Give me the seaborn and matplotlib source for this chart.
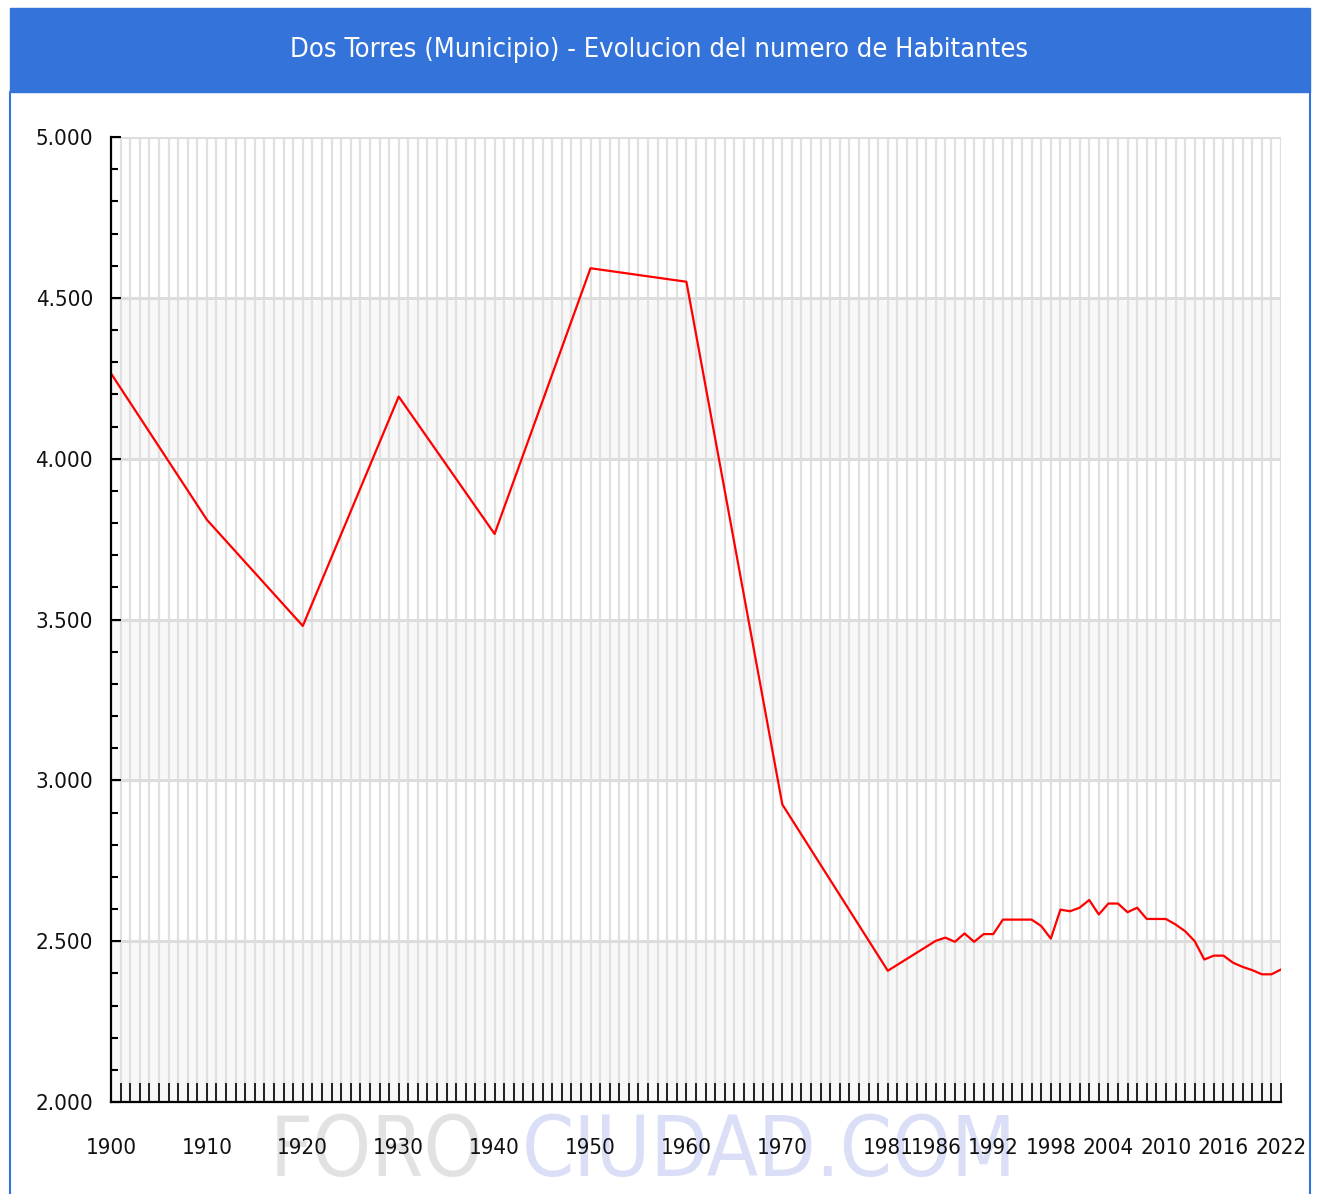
import matplotlib
matplotlib.use("Agg")
import matplotlib.pyplot as plt
from matplotlib import font_manager
from matplotlib.patches import Rectangle
from matplotlib.lines import Line2D
from matplotlib.ticker import FuncFormatter, MultipleLocator
import seaborn as sns
import pandas as pd

# ---------------- data ----------------
years = [1900, 1910, 1920, 1930, 1940, 1950, 1960, 1970, 1981,
         1986, 1987, 1988, 1989, 1990, 1991, 1992, 1993, 1994, 1995,
         1996, 1997, 1998, 1999, 2000, 2001, 2002, 2003, 2004, 2005,
         2006, 2007, 2008, 2009, 2010, 2011, 2012, 2013, 2014, 2015,
         2016, 2017, 2018, 2019, 2020, 2021, 2022]
population = [4265, 3810, 3480, 4193, 3766, 4592, 4550, 2925, 2408,
              2501, 2511, 2498, 2524, 2498, 2522, 2522, 2567, 2567, 2567,
              2567, 2547, 2508, 2598, 2593, 2604, 2628, 2583, 2617, 2617,
              2590, 2604, 2569, 2569, 2569, 2552, 2531, 2500, 2443, 2455,
              2455, 2433, 2420, 2410, 2397, 2397, 2412]
label_years = [1900, 1910, 1920, 1930, 1940, 1950, 1960, 1970, 1981,
               1986, 1992, 1998, 2004, 2010, 2016, 2022]
y_ticks = [2000, 2500, 3000, 3500, 4000, 4500, 5000]
title = "Dos Torres (Municipio) - Evolucion del numero de Habitantes"

df = pd.DataFrame({"year": years, "pop": population})

# ---------------- style ----------------
sns.set_theme(style="white")
names = {f.name for f in font_manager.fontManager.ttflist}
narrow = "Liberation Sans Narrow" if "Liberation Sans Narrow" in names else None
fam = [narrow, "DejaVu Sans"] if narrow else ["DejaVu Sans"]
plt.rcParams["font.family"] = fam
stretch = "normal" if narrow else "condensed"

W, H = 1319, 1194
fig = plt.figure(figsize=(W / 100, H / 100), dpi=100, facecolor="white")

# header bar
blue = "#3473D9"
fig.patches.append(Rectangle((10 / W, 1 - 92 / H), 1300 / W, 84 / H,
                             transform=fig.transFigure, color=blue, zorder=0))
fig.text(659 / W, 1 - 50 / H, title, color="white", fontsize=19.5,
         ha="center", va="center", fontstretch=stretch, family=fam)
# side border lines
for xp in (9.5, 1310):
    fig.lines.append(Line2D([xp / W, xp / W], [0, 1 - 92 / H],
                            transform=fig.transFigure, color=blue, lw=1.5))

# watermark
fig.text(270 / W, 18 / H, "FORO", color="#E2E2E2", fontsize=60,
         ha="left", va="baseline", zorder=-1, family=fam, fontstretch=stretch)
fig.text(522 / W, 18 / H, "CIUDAD.COM", color="#DADEF6", fontsize=60,
         ha="left", va="baseline", zorder=-1, family=fam, fontstretch=stretch)

ax = fig.add_axes([111 / W, 1 - 1102 / H, (1281 - 111) / W, (1102 - 137) / H])
ax.set_facecolor("white")

# alternating bands
for lo in (2000, 3000, 4000):
    ax.axhspan(lo, lo + 500, color="#F8F8F8", zorder=0, lw=0)

sns.lineplot(data=df, x="year", y="pop", color="#FF0000", lw=1.6, ax=ax,
             zorder=5)

ax.set_xlim(1900, 2022)
ax.set_ylim(2000, 5000)
ax.set_xticks(label_years)
ax.set_xticklabels([str(y) for y in label_years])
ax.set_xticks(range(1900, 2023), minor=True)
ax.set_yticks(y_ticks)
ax.yaxis.set_minor_locator(MultipleLocator(100))
ax.yaxis.set_major_formatter(FuncFormatter(lambda v, p: f"{int(v):,}".replace(",", ".")))

ax.grid(which="both", axis="x", color="#E0E0E0", lw=1.6)
ax.grid(which="major", axis="y", color="#DDDDDD", lw=2.2)
ax.set_axisbelow(True)

for s in ("top", "right"):
    ax.spines[s].set_visible(False)
for s in ("left", "bottom"):
    ax.spines[s].set_color("black")
    ax.spines[s].set_linewidth(1.6)
    ax.spines[s].set_zorder(6)

ax.tick_params(axis="x", which="both", direction="in", length=14, width=1.2,
               color="black", pad=26, labelsize=16, bottom=True)
ax.tick_params(axis="y", which="major", direction="in", length=7, width=1.5,
               color="black", pad=13, labelsize=16, left=True)
ax.tick_params(axis="y", which="minor", direction="in", length=5, width=1.5,
               color="black", left=True)
for lab in ax.get_xticklabels() + ax.get_yticklabels():
    lab.set_fontstretch(stretch)
    lab.set_color("#111111")

ax.set_xlabel("")
ax.set_ylabel("")

fig.savefig("out.png", dpi=100, facecolor="white")
